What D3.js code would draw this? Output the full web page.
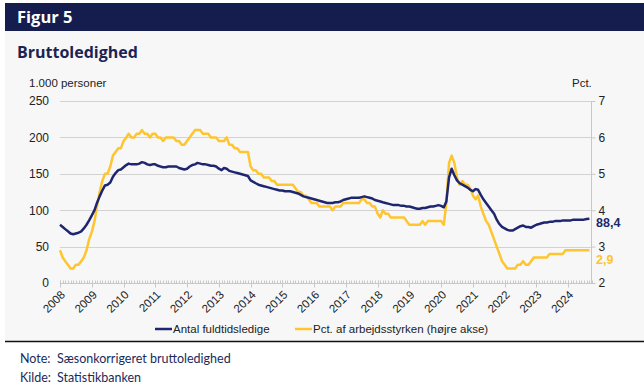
<!DOCTYPE html>
<html><head><meta charset="utf-8">
<script src="https://cdn.jsdelivr.net/npm/d3@7"></script>
<style>
body{margin:0;background:#fff;}
svg{display:block;}
</style></head>
<body>
<svg id="chart" width="644" height="385"></svg>
<script>
// ---- Data (monthly, Jan 2008 – Sep 2024) ----
const startYear = 2008;
const yearLabels = ["2008","2009","2010","2011","2012","2013","2014","2015","2016","2017","2018","2019","2020","2021","2022","2023","2024"];
const leftTicks = [0,50,100,150,200,250];
const rightTicks = [2,3,4,5,6,7];
// Antal fuldtidsledige (1.000 personer)
const fuldtidsledige = [
  80,77,74,71,68,67,68,69,71,75,80,86,
  93,100,110,119,127,134,135,138,146,151,155,156,
  159,162,164,163,163,163,164,166,165,163,162,163,
  163,161,160,159,159,160,160,160,160,158,157,156,
  157,160,162,163,165,164,163,163,162,161,161,160,
  157,155,158,157,154,153,152,151,150,149,148,147,
  141,139,137,135,134,133,132,131,130,129,128,127,
  127,126,126,126,125,124,123,121,119,118,117,116,
  115,114,113,112,111,110,110,110,111,111,112,114,
  115,116,117,117,117,117,118,119,118,117,116,114,
  113,112,111,110,109,108,107,107,107,106,106,105,
  105,104,103,102,102,103,103,104,105,105,106,107,
  106,104,112,145,157,148,141,137,135,133,131,128,
  126,129,128,121,115,110,105,100,95,87,81,77,
  75,73,72,72,74,76,78,79,77,77,76,78,
  80,81,82,83,83,84,84,85,85,85,86,86,
  86,86,87,87,87,87,87,88,88.4
];
// Pct. af arbejdsstyrken (højre akse)
const pctArbejdsstyrke = [
  2.9,2.7,2.6,2.5,2.4,2.4,2.5,2.5,2.6,2.7,2.9,3.2,
  3.4,3.7,4.1,4.5,4.8,5.0,5.0,5.2,5.5,5.6,5.7,5.7,
  5.9,6.0,6.1,6.0,6.0,6.1,6.1,6.2,6.1,6.1,6.0,6.1,
  6.1,6.0,6.0,5.9,6.0,6.0,6.0,6.0,5.9,5.9,5.8,5.8,
  5.9,6.0,6.1,6.2,6.2,6.2,6.1,6.1,6.1,6.0,6.0,6.0,
  5.9,5.9,5.9,6.0,5.8,5.8,5.7,5.7,5.6,5.6,5.6,5.6,
  5.2,5.1,5.1,5.0,5.0,4.9,4.9,4.9,4.8,4.8,4.7,4.7,
  4.7,4.7,4.7,4.7,4.7,4.6,4.5,4.5,4.4,4.4,4.3,4.2,
  4.2,4.2,4.1,4.1,4.1,4.1,4.1,4.0,4.1,4.1,4.1,4.2,
  4.2,4.2,4.2,4.2,4.2,4.2,4.3,4.3,4.2,4.2,4.1,4.1,
  3.9,3.8,4.0,3.9,3.9,3.8,3.8,3.8,3.8,3.8,3.8,3.7,
  3.6,3.6,3.6,3.6,3.6,3.7,3.6,3.7,3.7,3.7,3.7,3.7,
  3.7,3.6,4.2,5.3,5.5,5.3,4.9,4.7,4.8,4.7,4.7,4.6,
  4.4,4.3,4.4,4.1,3.9,3.7,3.6,3.4,3.2,3.0,2.8,2.6,
  2.5,2.4,2.4,2.4,2.4,2.5,2.5,2.6,2.5,2.5,2.6,2.7,
  2.7,2.7,2.7,2.7,2.7,2.8,2.8,2.8,2.8,2.8,2.8,2.9,
  2.9,2.9,2.9,2.9,2.9,2.9,2.9,2.9,2.9
];
const seriesNames = ["Antal fuldtidsledige","Pct. af arbejdsstyrken (højre akse)"];
const endLabels = ["88,4","2,9"];

// ---- Styles ----
const NAVY = "#1f2670", YELLOW = "#fec52e", HEADER = "#141d4d", GRID = "#d2d2d2", AXIS = "#c8c8c8";
const tickFont = "'Liberation Sans', Arial, sans-serif";

const svg = d3.select("#chart");
svg.append("rect").attr("x",5).attr("y",3).attr("width",639).attr("height",339).attr("fill","#f7f7f7");
svg.append("rect").attr("x",5).attr("y",3).attr("width",639).attr("height",28).attr("fill",HEADER);
svg.append("text").attr("x",17).attr("y",23).text("Figur 5")
  .attr("fill","#fff").attr("font-family","'Open Sans', sans-serif").attr("font-weight",700).attr("font-size",16.5);
svg.append("text").attr("x",17).attr("y",58).text("Bruttoledighed")
  .attr("fill","#1b2352").attr("font-family","'Open Sans', sans-serif").attr("font-weight",700).attr("font-size",16);

const dates = fuldtidsledige.map((d,i)=> new Date(startYear, i, 1));
const x = d3.scaleTime().domain([new Date(2008,0,1), new Date(2024,9,1)]).range([60, 592]);
const yL = d3.scaleLinear().domain([0,250]).range([283,101]);
const yR = d3.scaleLinear().domain([2,7]).range([283,101]);

// axis titles
svg.append("text").attr("x",29).attr("y",87).text("1.000 personer")
  .attr("font-family",tickFont).attr("font-size",11.5).attr("fill","#222");
svg.append("text").attr("x",572).attr("y",87).text("Pct.")
  .attr("font-family",tickFont).attr("font-size",11.5).attr("fill","#222");

// gridlines
svg.append("g").selectAll("line").data(leftTicks.filter(d=>d>0)).join("line")
  .attr("x1",60).attr("x2",592).attr("y1",d=>Math.round(yL(d))+0.5).attr("y2",d=>Math.round(yL(d))+0.5)
  .attr("stroke",GRID).attr("stroke-width",1);

// left axis
const gL = svg.append("g").attr("transform","translate(55,0)")
  .call(d3.axisLeft(yL).tickValues(leftTicks).tickSize(0).tickPadding(6));
gL.select(".domain").remove();
gL.selectAll("text").attr("font-family",tickFont).attr("font-size",12).attr("fill","#222");

// right axis
const gR = svg.append("g").attr("transform","translate(591.5,0)")
  .call(d3.axisRight(yR).tickValues(rightTicks).tickFormat(d3.format("d")).tickSize(4).tickPadding(3));
gR.select(".domain").attr("stroke",AXIS).attr("d","M0,101V283");
gR.selectAll("line").attr("stroke",AXIS);
gR.selectAll("text").attr("font-family",tickFont).attr("font-size",12).attr("fill","#222");

// bottom axis
const gB = svg.append("g").attr("transform","translate(0,283.5)");
gB.append("line").attr("x1",60).attr("x2",592).attr("stroke",AXIS);
gB.selectAll(".minor").data(d3.timeMonth.range(new Date(2008,0,1), new Date(2024,9,2))).join("line")
  .attr("x1",d=>Math.round(x(d))+0.5).attr("x2",d=>Math.round(x(d))+0.5).attr("y1",-3).attr("y2",0)
  .attr("stroke",AXIS);
const yearDates = yearLabels.map(y=>new Date(+y,0,1));
gB.selectAll(".major").data(yearDates).join("line")
  .attr("x1",d=>Math.round(x(d))+0.5).attr("x2",d=>Math.round(x(d))+0.5).attr("y1",-3).attr("y2",4)
  .attr("stroke",AXIS);
gB.selectAll(".lbl").data(yearLabels).join("text")
  .attr("transform",(d,i)=>`translate(${x(yearDates[i])+3},${9}) rotate(-45)`)
  .attr("text-anchor","end").attr("dy","0.35em")
  .attr("font-family",tickFont).attr("font-size",11.5).attr("fill","#222").text(d=>d);

// lines
const lineL = d3.line().x((d,i)=>x(dates[i])).y(d=>yL(d));
const lineR = d3.line().x((d,i)=>x(dates[i])).y(d=>yR(d));
svg.append("path").datum(pctArbejdsstyrke).attr("d",lineR).attr("fill","none")
  .attr("stroke",YELLOW).attr("stroke-width",2.5).attr("stroke-linejoin","round");
svg.append("path").datum(fuldtidsledige).attr("d",lineL).attr("fill","none")
  .attr("stroke",NAVY).attr("stroke-width",2.5).attr("stroke-linejoin","round");

// end labels
svg.append("text").attr("x",596).attr("y",227).text(endLabels[0])
  .attr("font-family",tickFont).attr("font-weight",700).attr("font-size",12.5).attr("fill","#1b2a6b");
svg.append("text").attr("x",596).attr("y",264).text(endLabels[1])
  .attr("font-family",tickFont).attr("font-weight",700).attr("font-size",12.5).attr("fill",YELLOW);

// legend
const legend = [{x:155, c:NAVY, t:seriesNames[0]},{x:295, c:YELLOW, t:seriesNames[1]}];
const lg = svg.append("g");
legend.forEach(l=>{
  lg.append("line").attr("x1",l.x).attr("x2",l.x+17).attr("y1",329).attr("y2",329)
    .attr("stroke",l.c).attr("stroke-width",2.5);
  lg.append("text").attr("x",l.x+18).attr("y",333).text(l.t)
    .attr("font-family",tickFont).attr("font-size",11.5).attr("fill","#222");
});

// rule and notes
svg.append("line").attr("x1",5).attr("x2",644).attr("y1",341.5).attr("y2",341.5).attr("stroke","#111").attr("stroke-width",1.5);
const notes = [["Note:","Sæsonkorrigeret bruttoledighed",363],["Kilde:","Statistikbanken",382]];
notes.forEach(n=>{
  svg.append("text").attr("x",20).attr("y",n[2]).text(n[0])
    .attr("font-family","Lato, sans-serif").attr("font-weight",400).attr("font-size",12.5).attr("fill","#1b2a5c");
  svg.append("text").attr("x",57).attr("y",n[2]).text(n[1])
    .attr("font-family","Lato, sans-serif").attr("font-weight",400).attr("font-size",12.5).attr("fill","#1b2a5c");
});
</script>
</body></html>
